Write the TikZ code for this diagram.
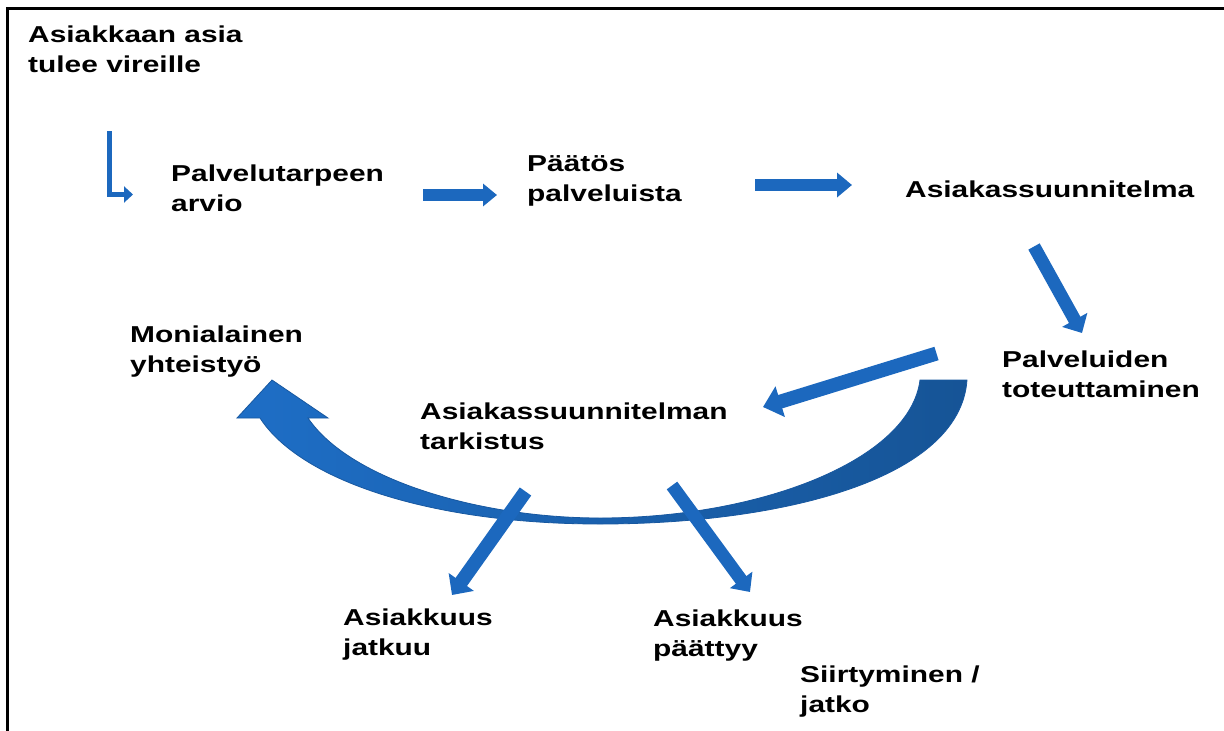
\documentclass[tikz,border=0pt]{standalone}
\usepackage{fontspec}
\setmainfont{Liberation Sans}[FakeStretch=1.3]
\usetikzlibrary{arrows.meta}
\definecolor{ab}{RGB}{28,104,190}
\definecolor{abl}{RGB}{30,110,198}
\definecolor{abd}{RGB}{22,84,150}
\definecolor{abo}{RGB}{24,88,160}
\begin{document}
\begin{tikzpicture}[x=1pt,y=-1pt,
  lbl/.style={anchor=base west, inner sep=0pt, align=left, font=\fontsize{23}{30}\selectfont\bfseries},
  blockarrow/.style={draw=ab, line width=#1},
  frame/.style={line width=3pt, black}]
\useasboundingbox (0,0) rectangle (1224,731);
\draw[frame] (7,731) -- (7,8) -- (1224,8);

% labels (anchor = baseline of the last line)
\node[lbl] (t1) at (28,72) {Asiakkaan asia\\tulee vireille};
\node[lbl] (t2) at (171,211) {Palvelutarpeen\\arvio};
\node[lbl] (t3) at (527,201) {Päätös\\palveluista};
\node[lbl] (t4) at (905,197) {Asiakassuunnitelma};
\node[lbl] (t5) at (1002,397) {Palveluiden\\toteuttaminen};
\node[lbl] (t6) at (130,372) {Monialainen\\yhteistyö};
\node[lbl] (t7) at (420,449) {Asiakassuunnitelman\\tarkistus};
\node[lbl] (t8) at (343,655) {Asiakkuus\\jatkuu};
\node[lbl] (t9) at (653,656) {Asiakkuus\\päättyy};
\node[lbl] (t10) at (800,712) {Siirtyminen /\\jatko};

% big curved arrow
\shadedraw[draw=abo, line width=0.8pt, left color=abl, right color=abd]
  (920,380) -- (967,380)
  .. controls (960,480) and (780,524) .. (600,524)
  .. controls (430,524) and (300,480) .. (260,418)
  -- (237,418) -- (272,380) -- (328,418) -- (308,418)
  .. controls (350,480) and (480,518) .. (600,518)
  .. controls (760,518) and (910,460) .. (920,380) -- cycle;

% arrow anchor coordinates
\coordinate (a0) at (109,131);
\coordinate (a1) at (133,194.5);
\coordinate (b0) at (423,195);
\coordinate (b1) at (497,195);
\coordinate (c0) at (755,185);
\coordinate (c1) at (852,185);
\coordinate (d0) at (1034,246.5);
\coordinate (d1) at (1082,333);
\coordinate (e0) at (936.5,353.5);
\coordinate (e1) at (763,407);
\coordinate (f0) at (525.5,491.5);
\coordinate (f1) at (452,595);
\coordinate (g0) at (672,485.5);
\coordinate (g1) at (750,592);

\draw[blockarrow=5pt, -{Triangle[width=16pt,length=9pt]}] (a0) |- (a1);
\draw[blockarrow=12pt, -{Triangle[width=22pt,length=14pt]}] (b0) -- (b1);
\draw[blockarrow=12pt, -{Triangle[width=24pt,length=15pt]}] (c0) -- (c1);
\draw[blockarrow=13pt, -{Triangle[width=28pt,length=15pt]}] (d0) -- (d1);
\draw[blockarrow=14pt, -{Triangle[width=31pt,length=18pt]}] (e0) -- (e1);
\draw[blockarrow=14pt, -{Triangle[width=30pt,length=16pt]}] (f0) -- (f1);
\draw[blockarrow=13pt, -{Triangle[width=27pt,length=15pt]}] (g0) -- (g1);
\end{tikzpicture}
\end{document}
